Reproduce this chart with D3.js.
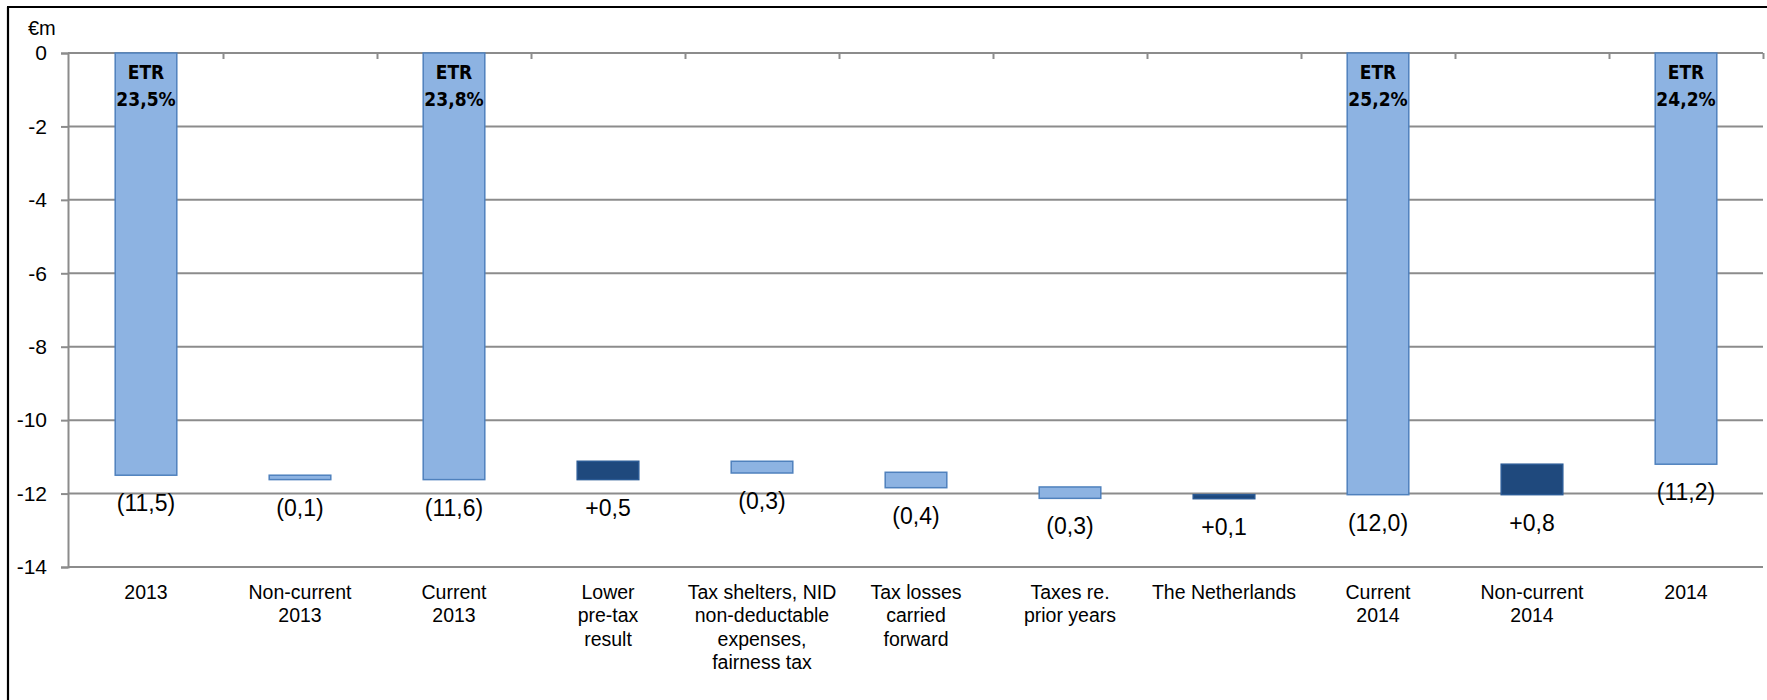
<!DOCTYPE html>
<html>
<head>
<meta charset="utf-8">
<script src="https://cdn.jsdelivr.net/npm/d3@7"></script>
<style>
  html, body { margin: 0; padding: 0; background: #ffffff; }
  svg { display: block; }
</style>
</head>
<body>
<svg id="chart" width="1767" height="700"></svg>
<script>
// ---------------- data ----------------
const categories = [
  ["2013"],
  ["Non-current", "2013"],
  ["Current", "2013"],
  ["Lower", "pre-tax", "result"],
  ["Tax shelters, NID", "non-deductable", "expenses,", "fairness tax"],
  ["Tax losses", "carried", "forward"],
  ["Taxes re.", "prior years"],
  ["The Netherlands"],
  ["Current", "2014"],
  ["Non-current", "2014"],
  ["2014"]
];
const barStart = [0, -11.5, 0, -11.62, -11.12, -11.42, -11.82, -12.14, 0, -12.03, 0];
const barEnd   = [-11.5, -11.62, -11.62, -11.12, -11.44, -11.84, -12.13, -12.03, -12.03, -11.2, -11.2];
const barKind  = ["light", "light", "light", "dark", "light", "light", "light", "dark", "light", "dark", "light"];
const valueLabels = ["(11,5)", "(0,1)", "(11,6)", "+0,5", "(0,3)", "(0,4)", "(0,3)", "+0,1", "(12,0)", "+0,8", "(11,2)"];
const etrLabels = ["23,5%", null, "23,8%", null, null, null, null, null, "25,2%", null, "24,2%"];
const yTicks = [0, -2, -4, -6, -8, -10, -12, -14];
const unitLabel = "€m";

// ---------------- layout ----------------
const svg = d3.select("#chart");
const plotLeft = 69, plotRight = 1763, plotTop = 53, plotBottom = 567;
const fontMain = "'Liberation Sans', Arial, sans-serif";
const fontBold = "'DejaVu Sans Condensed', 'DejaVu Sans', sans-serif";
const gridColor = "#8c8c8c";

const idx = categories.map((d, i) => i);
const x = d3.scaleBand().domain(idx).range([plotLeft, plotRight]).paddingInner(0.6).paddingOuter(0.3);
const y = d3.scaleLinear().domain([-14, 0]).range([plotBottom, plotTop]);

// frame
svg.append("line").attr("x1", 8).attr("x2", 8).attr("y1", 7).attr("y2", 700)
  .attr("stroke", "#000").attr("stroke-width", 2.2);
svg.append("line").attr("x1", 7).attr("x2", 1767).attr("y1", 7).attr("y2", 7)
  .attr("stroke", "#000").attr("stroke-width", 2.2);

// gridlines
svg.append("g").selectAll("line").data(yTicks).join("line")
  .attr("x1", plotLeft - 1).attr("x2", plotRight)
  .attr("y1", d => y(d)).attr("y2", d => y(d))
  .attr("stroke", gridColor).attr("stroke-width", 2);

// y axis
const yAxis = svg.append("g").attr("transform", `translate(${plotLeft - 1},0)`)
  .call(d3.axisLeft(y).tickValues(yTicks).tickSize(7).tickPadding(14).tickFormat(d => String(d)));
yAxis.select(".domain").attr("stroke", gridColor).attr("stroke-width", 2);
yAxis.selectAll(".tick line").attr("stroke", gridColor).attr("stroke-width", 2);
yAxis.selectAll(".tick text").attr("font-family", fontMain).attr("font-size", 21).attr("fill", "#000");

// top category boundary ticks (horizontal axis crosses at 0)
const xb = d3.scaleLinear().domain([0, categories.length]).range([plotLeft, plotRight]);
const xAxis = svg.append("g").attr("transform", `translate(0,${y(0)})`)
  .call(d3.axisBottom(xb).tickValues(d3.range(1, categories.length + 1)).tickSize(6).tickFormat(""));
xAxis.select(".domain").remove();
xAxis.selectAll(".tick line").attr("stroke", gridColor).attr("stroke-width", 2);

// unit label
svg.append("text").attr("x", 28).attr("y", 28).attr("dominant-baseline", "central")
  .attr("font-family", fontMain).attr("font-size", 20).attr("fill", "#000").text(unitLabel);

// bars
svg.append("g").selectAll("rect").data(idx).join("rect")
  .attr("x", i => x(i))
  .attr("width", x.bandwidth())
  .attr("y", i => y(Math.max(barStart[i], barEnd[i])))
  .attr("height", i => Math.abs(y(barStart[i]) - y(barEnd[i])))
  .attr("fill", i => barKind[i] === "dark" ? "#1f497d" : "#8db3e2")
  .attr("stroke", i => barKind[i] === "dark" ? "#2a5a94" : "#4f81bd")
  .attr("stroke-width", 1.5);

// ETR labels
const etr = svg.append("g").selectAll("g").data(idx.filter(i => etrLabels[i])).join("g");
etr.append("text").attr("x", i => x(i) + x.bandwidth() / 2).attr("y", 72)
  .attr("text-anchor", "middle").attr("dominant-baseline", "central")
  .attr("font-family", fontBold).attr("font-weight", "bold").attr("font-stretch", "condensed")
  .attr("font-size", 19).attr("fill", "#000").text("ETR");
etr.append("text").attr("x", i => x(i) + x.bandwidth() / 2).attr("y", 98.5)
  .attr("text-anchor", "middle").attr("dominant-baseline", "central")
  .attr("font-family", fontBold).attr("font-weight", "bold").attr("font-stretch", "condensed")
  .attr("font-size", 19).attr("fill", "#000").text(i => etrLabels[i]);

// value labels under bars
svg.append("g").selectAll("text").data(idx).join("text")
  .attr("x", i => x(i) + x.bandwidth() / 2)
  .attr("y", i => y(Math.min(barStart[i], barEnd[i])) + 28)
  .attr("text-anchor", "middle").attr("dominant-baseline", "central")
  .attr("font-family", fontMain).attr("font-size", 23).attr("fill", "#000")
  .text(i => valueLabels[i]);

// category labels
const cat = svg.append("g").selectAll("text").data(idx).join("text")
  .attr("text-anchor", "middle")
  .attr("font-family", fontMain).attr("font-size", 19.5).attr("fill", "#000");
cat.each(function(i) {
  const t = d3.select(this);
  categories[i].forEach((line, k) => {
    t.append("tspan").attr("x", x(i) + x.bandwidth() / 2)
      .attr("y", 592 + k * 23.3).attr("dominant-baseline", "central").text(line);
  });
});
</script>
</body>
</html>
